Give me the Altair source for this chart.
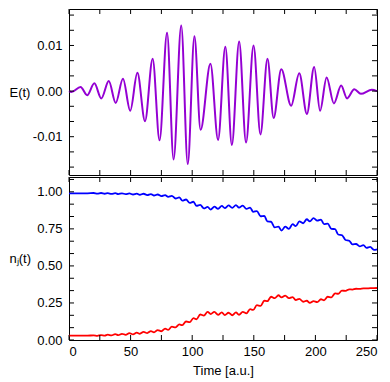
import altair as alt
import pandas as pd

# ---- data ----
# Electric field E(t): extrema (time, value)
t_E = [0, 2, 9.4, 14.7, 20.6, 26.2, 32.3, 37.9, 43.8, 49.7, 55.5, 61.7, 67.9, 73.5,
       79.6, 84.9, 91.1, 96.4, 101.8, 106.8, 114.8, 121.0, 126.9, 132.2, 138.1, 143.7,
       149.8, 155.4, 161.1, 166.1, 172.3, 180.3, 186.9, 193.1, 199.0, 203.8, 209.1,
       215.0, 220.9, 225.7, 231.6, 236.9, 245.8, 250]
E_vals = [0.0, -0.0002, 0.0009, -0.0009, 0.0017, -0.0016, 0.0022, -0.0026, 0.0027, -0.0043,
          0.0040, -0.0066, 0.0071, -0.0108, 0.0128, -0.0150, 0.0144, -0.0160, 0.0120, -0.0085,
          0.0060, -0.0107, 0.0097, -0.0118, 0.0109, -0.0113, 0.0100, -0.0095, 0.0071, -0.0059,
          0.0048, -0.0032, 0.0039, -0.0050, 0.0053, -0.0043, 0.0030, -0.0027, 0.0012, -0.0016,
          0.0004, -0.0006, 0.0003, 0.0]

# Populations n_j(t)
t_n = [0, 15, 20, 23, 26, 29, 31.5, 34.5, 37.5, 40, 43, 46, 49, 52, 55, 57.5, 60.5, 63.5,
       66.5, 69, 72, 75, 78, 80.5, 83.5, 86.5, 89.5, 92, 95, 98, 101, 103.5, 106.5, 109.5,
       112.5, 115, 118, 121, 124, 126.5, 129.5, 132.5, 135.5, 138, 141, 144, 147, 149.5,
       152.5, 155.5, 158.5, 161, 164, 167, 170, 172.5, 175.5, 178.5, 181.5, 184, 187, 190,
       193, 195.5, 198.5, 201.5, 204.5, 207, 210, 213, 216, 218.5, 221.5, 224.5, 227.5, 230,
       233, 236, 239, 241.5, 244.5, 247.5, 250]
n_blue = [0.990, 0.990, 0.992, 0.988, 0.992, 0.987, 0.991, 0.986, 0.991, 0.985, 0.990, 0.984,
          0.989, 0.982, 0.988, 0.980, 0.987, 0.978, 0.985, 0.975, 0.982, 0.971, 0.978, 0.966,
          0.972, 0.955, 0.962, 0.940, 0.948, 0.925, 0.933, 0.905, 0.912, 0.888, 0.898, 0.880,
          0.900, 0.885, 0.905, 0.890, 0.908, 0.892, 0.910, 0.893, 0.907, 0.885, 0.893, 0.865,
          0.870, 0.835, 0.838, 0.800, 0.798, 0.760, 0.765, 0.738, 0.765, 0.750, 0.782, 0.768,
          0.800, 0.788, 0.815, 0.800, 0.822, 0.805, 0.812, 0.782, 0.785, 0.750, 0.748, 0.712,
          0.708, 0.675, 0.670, 0.645, 0.648, 0.632, 0.640, 0.622, 0.628, 0.608, 0.612]
n_red = [0.030, 0.030, 0.031, 0.028, 0.033, 0.030, 0.036, 0.031, 0.039, 0.033, 0.042, 0.035,
         0.046, 0.038, 0.050, 0.042, 0.055, 0.047, 0.060, 0.052, 0.067, 0.059, 0.077, 0.068,
         0.090, 0.085, 0.105, 0.100, 0.125, 0.120, 0.148, 0.140, 0.172, 0.165, 0.190, 0.175,
         0.190, 0.170, 0.187, 0.168, 0.184, 0.167, 0.186, 0.170, 0.190, 0.180, 0.208, 0.203,
         0.235, 0.230, 0.265, 0.262, 0.292, 0.282, 0.302, 0.288, 0.300, 0.282, 0.290, 0.270,
         0.278, 0.258, 0.265, 0.250, 0.262, 0.255, 0.275, 0.268, 0.292, 0.288, 0.315, 0.312,
         0.333, 0.332, 0.342, 0.340, 0.346, 0.345, 0.348, 0.348, 0.350, 0.350, 0.351]

x_labels = [0, 50, 100, 150, 200, 250]
x_ticks = [0, 25, 50, 75, 100, 125, 150, 175, 200, 225, 250]
E_labels = [-0.01, 0.0, 0.01]
E_ticks = [-0.016667, -0.013333, -0.01, -0.006667, -0.003333, 0.0,
           0.003333, 0.006667, 0.01, 0.013333, 0.016667]
n_labels = [0.0, 0.25, 0.5, 0.75, 1.0]
n_ticks = [0.0, 0.083333, 0.166667, 0.25, 0.333333, 0.416667, 0.5, 0.583333,
           0.666667, 0.75, 0.833333, 0.916667, 1.0, 1.083333]

W = 308
H_TOP = 166
H_BOT = 163
TL = 5
FONT = "Liberation Sans"
FS = 13

dfE = pd.DataFrame({"t": t_E, "E": E_vals})
dfn = pd.DataFrame({"t": t_n * 2, "n": n_blue + n_red,
                    "state": ["a"] * len(t_n) + ["b"] * len(t_n)})
dfxt = pd.DataFrame({"t": x_ticks})
dfEt = pd.DataFrame({"E": E_ticks})
dfnt = pd.DataFrame({"n": n_ticks})

xscale = alt.Scale(domain=[0, 250], nice=False, zero=False)
Escale = alt.Scale(domain=[-0.0184, 0.018], nice=False, zero=False)
nscale = alt.Scale(domain=[0, 1.1], nice=False, zero=False)

lab_expr = "datum.value < -1e-9 ? '-' + format(-datum.value, '.2f') : format(abs(datum.value), '.2f')"

x_axis_top = None
x_axis_bot = alt.Axis(values=x_labels, format="d", title="Time [a.u.]",
                      labelPadding=5, titlePadding=6)
y_axis_top = alt.Axis(values=E_labels, labelExpr=lab_expr, title="E(t)", titleAngle=0,
                      titleAlign="left", titleBaseline="middle", titleX=-60,
                      titleY=H_TOP / 2, labelPadding=7)
y_axis_bot = alt.Axis(values=n_labels, labelExpr=lab_expr, title="nⱼ(t)", titleAngle=0,
                      titleAlign="left", titleBaseline="middle", titleX=-60,
                      titleY=H_BOT / 2, labelPadding=7)


def X(axis):
    if axis is None:
        return alt.X("t:Q", scale=xscale, axis=None)
    return alt.X("t:Q", scale=xscale, axis=axis)


def tick_layers(ydf, yfield, yscale, yaxis, xaxis, H):
    Y = lambda: alt.Y(f"{yfield}:Q", scale=yscale, axis=yaxis)
    xb = alt.Chart(dfxt).mark_rule(color="black", strokeWidth=1).encode(
        x=X(xaxis), y=alt.value(H), y2=alt.value(H - TL))
    xt = alt.Chart(dfxt).mark_rule(color="black", strokeWidth=1).encode(
        x=X(xaxis), y=alt.value(0), y2=alt.value(TL))
    yl = alt.Chart(ydf).mark_rule(color="black", strokeWidth=1).encode(
        y=Y(), x=alt.value(0), x2=alt.value(TL))
    yr = alt.Chart(ydf).mark_rule(color="black", strokeWidth=1).encode(
        y=Y(), x=alt.value(W - TL), x2=alt.value(W))
    return [xb, xt, yl, yr]


top_line = alt.Chart(dfE).mark_line(color="#9400d3", strokeWidth=2, interpolate="monotone").encode(
    x=X(x_axis_top),
    y=alt.Y("E:Q", scale=Escale, axis=y_axis_top),
)
top = alt.layer(top_line, *tick_layers(dfEt, "E", Escale, y_axis_top, x_axis_top, H_TOP)).properties(
    width=W, height=H_TOP)

bot_line = alt.Chart(dfn).mark_line(strokeWidth=1.8, interpolate="monotone").encode(
    x=X(x_axis_bot),
    y=alt.Y("n:Q", scale=nscale, axis=y_axis_bot),
    color=alt.Color("state:N", scale=alt.Scale(domain=["a", "b"], range=["#0000ff", "#ff0000"]),
                    legend=None),
)
bot = alt.layer(bot_line, *tick_layers(dfnt, "n", nscale, y_axis_bot, x_axis_bot, H_BOT)).properties(
    width=W, height=H_BOT)

chart = alt.vconcat(top, bot, spacing=0).properties(padding=0).configure_view(
    stroke="black", strokeWidth=1
).configure_axis(
    grid=False, ticks=False, domain=False,
    labelFont=FONT, labelFontSize=FS, labelColor="black",
    titleFont=FONT, titleFontSize=FS, titleFontWeight="normal", titleColor="black",
)

chart.save("out.html", embed_options={"renderer": "svg", "actions": False})
